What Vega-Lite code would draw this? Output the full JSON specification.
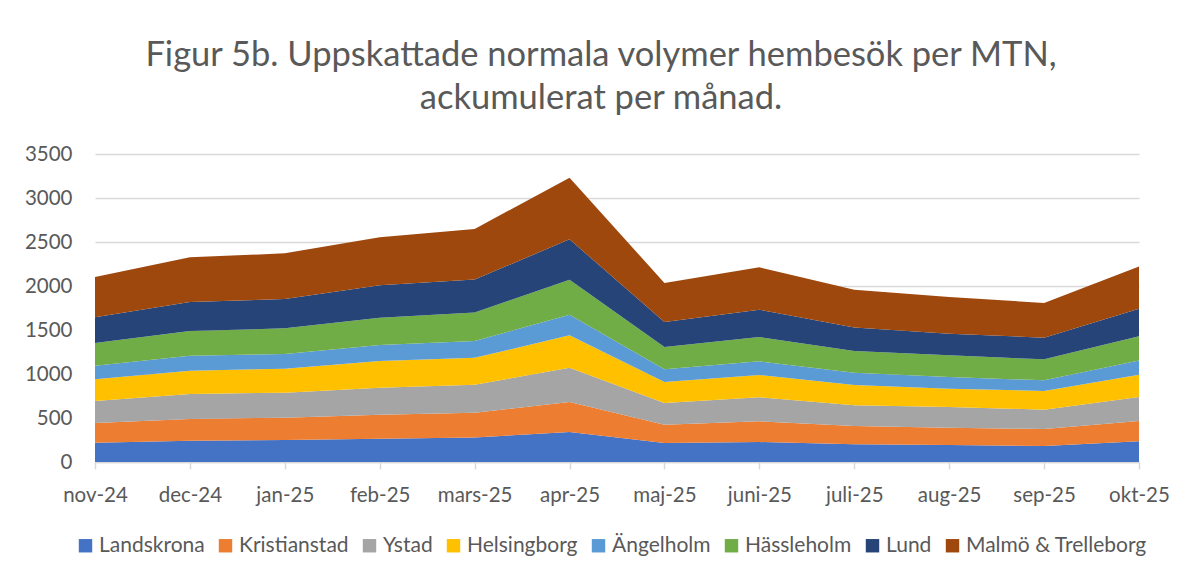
{
  "$schema": "https://vega.github.io/schema/vega-lite/v6.json",
  "width": 1044,
  "height": 308,
  "autosize": {"type": "none"},
  "padding": {"left": 95, "top": 154, "right": 56, "bottom": 115},
  "background": "white",
  "title": {
    "text": ["Figur 5b. Uppskattade normala volymer hembesök per MTN,", "ackumulerat per månad."],
    "fontSize": 34.5,
    "font": "Lato",
    "fontWeight": "normal",
    "color": "#595959",
    "anchor": "middle",
    "offset": 28,
    "lineHeight": 43,
    "dx": -16
  },
  "data": {
    "values": [
      {"month": "nov-24", "Landskrona": 220, "Kristianstad": 223, "Ystad": 250, "Helsingborg": 246, "Ängelholm": 156, "Hässleholm": 257, "Lund": 292, "Malmö & Trelleborg": 458},
      {"month": "dec-24", "Landskrona": 242, "Kristianstad": 247, "Ystad": 284, "Helsingborg": 265, "Ängelholm": 170, "Hässleholm": 281, "Lund": 329, "Malmö & Trelleborg": 508},
      {"month": "jan-25", "Landskrona": 250, "Kristianstad": 254, "Ystad": 284, "Helsingborg": 273, "Ängelholm": 166, "Hässleholm": 292, "Lund": 333, "Malmö & Trelleborg": 519},
      {"month": "feb-25", "Landskrona": 265, "Kristianstad": 273, "Ystad": 307, "Helsingborg": 303, "Ängelholm": 182, "Hässleholm": 310, "Lund": 368, "Malmö & Trelleborg": 545},
      {"month": "mars-25", "Landskrona": 278, "Kristianstad": 281, "Ystad": 318, "Helsingborg": 307, "Ängelholm": 190, "Hässleholm": 325, "Lund": 374, "Malmö & Trelleborg": 575},
      {"month": "apr-25", "Landskrona": 341, "Kristianstad": 341, "Ystad": 390, "Helsingborg": 367, "Ängelholm": 235, "Hässleholm": 398, "Lund": 458, "Malmö & Trelleborg": 701},
      {"month": "maj-25", "Landskrona": 216, "Kristianstad": 208, "Ystad": 246, "Helsingborg": 239, "Ängelholm": 144, "Hässleholm": 254, "Lund": 284, "Malmö & Trelleborg": 443},
      {"month": "juni-25", "Landskrona": 227, "Kristianstad": 235, "Ystad": 273, "Helsingborg": 254, "Ängelholm": 155, "Hässleholm": 276, "Lund": 311, "Malmö & Trelleborg": 481},
      {"month": "juli-25", "Landskrona": 201, "Kristianstad": 208, "Ystad": 235, "Helsingborg": 231, "Ängelholm": 140, "Hässleholm": 246, "Lund": 266, "Malmö & Trelleborg": 431},
      {"month": "aug-25", "Landskrona": 193, "Kristianstad": 197, "Ystad": 235, "Helsingborg": 208, "Ängelholm": 133, "Hässleholm": 246, "Lund": 246, "Malmö & Trelleborg": 417},
      {"month": "sep-25", "Landskrona": 182, "Kristianstad": 193, "Ystad": 220, "Helsingborg": 212, "Ängelholm": 121, "Hässleholm": 239, "Lund": 246, "Malmö & Trelleborg": 394},
      {"month": "okt-25", "Landskrona": 235, "Kristianstad": 231, "Ystad": 273, "Helsingborg": 253, "Ängelholm": 160, "Hässleholm": 276, "Lund": 314, "Malmö & Trelleborg": 481}
    ]
  },
  "transform": [
    {"fold": ["Landskrona", "Kristianstad", "Ystad", "Helsingborg", "Ängelholm", "Hässleholm", "Lund", "Malmö & Trelleborg"], "as": ["series", "value"]},
    {"calculate": "indexof(['Landskrona', 'Kristianstad', 'Ystad', 'Helsingborg', 'Ängelholm', 'Hässleholm', 'Lund', 'Malmö & Trelleborg'], datum.series)", "as": "stackOrder"}
  ],
  "mark": {"type": "area"},
  "encoding": {
    "x": {
      "field": "month",
      "type": "ordinal",
      "sort": ["nov-24", "dec-24", "jan-25", "feb-25", "mars-25", "apr-25", "maj-25", "juni-25", "juli-25", "aug-25", "sep-25", "okt-25"],
      "scale": {"padding": 0},
      "axis": {
        "title": null,
        "labelAngle": 0,
        "labelFontSize": 20.5,
        "labelColor": "#595959",
        "labelPadding": 16,
        "domainColor": "#d9d9d9",
        "domainWidth": 1.5,
        "tickColor": "#d9d9d9",
        "tickWidth": 1.5,
        "tickSize": 7,
        "grid": false
      }
    },
    "y": {
      "field": "value",
      "type": "quantitative",
      "stack": "zero",
      "scale": {"domain": [0, 3500], "nice": false},
      "axis": {
        "title": null,
        "format": "d",
        "values": [0, 500, 1000, 1500, 2000, 2500, 3000, 3500],
        "domain": false,
        "ticks": false,
        "labelFontSize": 20.5,
        "labelColor": "#595959",
        "labelPadding": 23,
        "gridColor": "#d9d9d9",
        "gridWidth": 1.5
      }
    },
    "color": {
      "field": "series",
      "type": "nominal",
      "scale": {
        "domain": ["Landskrona", "Kristianstad", "Ystad", "Helsingborg", "Ängelholm", "Hässleholm", "Lund", "Malmö & Trelleborg"],
        "range": ["#4472C4", "#ED7D31", "#A5A5A5", "#FFC000", "#5B9BD5", "#70AD47", "#264478", "#9E480E"]
      },
      "legend": {
        "title": null,
        "orient": "none",
        "legendX": -20,
        "legendY": 381,
        "direction": "horizontal",
        "columns": 8,
        "symbolType": "square",
        "symbolSize": 180,
        "symbolStrokeWidth": 0,
        "labelFontSize": 21,
        "labelColor": "#595959",
        "labelOffset": 3,
        "labelLimit": 0,
        "columnPadding": 10,
        "offset": 28
      }
    },
    "order": {"field": "stackOrder", "type": "quantitative", "sort": "ascending"}
  },
  "config": {"view": {"stroke": null}, "font": "Lato"}
}
